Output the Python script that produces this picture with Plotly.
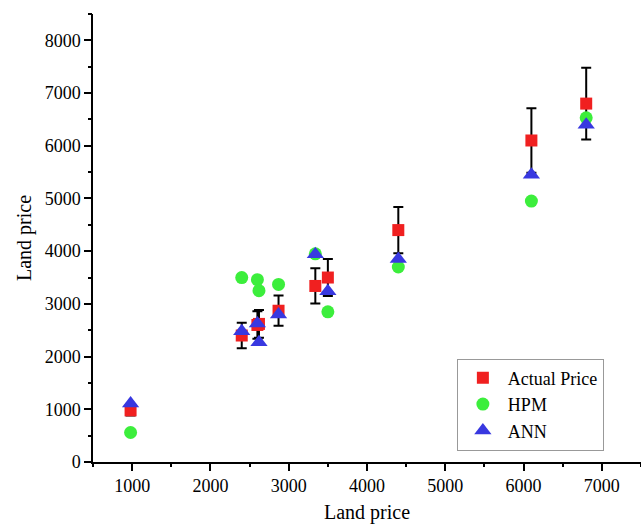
import plotly.graph_objects as go

# Actual land price (also used as the x position) and model predictions
actual_price = [980, 2400, 2600, 2620, 2870, 3340, 3500, 4400, 6100, 6800]
hpm_price = [560, 3500, 3460, 3250, 3370, 3950, 2850, 3700, 4950, 6530]
ann_price = [1110, 2480, 2630, 2270, 2800, 3940, 3240, 3850, 5450, 6400]
price_error = [98, 240, 260, 262, 287, 334, 350, 440, 610, 680]

x_ticks = [1000, 2000, 3000, 4000, 5000, 6000, 7000]
y_ticks = [0, 1000, 2000, 3000, 4000, 5000, 6000, 7000, 8000]
x_minor_ticks = [500, 1000, 1500, 2000, 2500, 3000, 3500, 4000, 4500,
                 5000, 5500, 6000, 6500, 7000, 7500]
y_minor_ticks = [0, 500, 1000, 1500, 2000, 2500, 3000, 3500, 4000, 4500,
                 5000, 5500, 6000, 6500, 7000, 7500, 8000, 8500]

x_range = [500, 7500]
y_range = [0, 8500]

serif = "Liberation Serif"

fig = go.Figure()

fig.add_trace(go.Scatter(
    x=actual_price, y=actual_price, mode="markers", name="Actual Price",
    marker=dict(symbol="square", size=12, color="#F02020", line=dict(width=0)),
    error_y=dict(type="data", array=price_error, visible=True,
                 color="black", thickness=2, width=5),
))
fig.add_trace(go.Scatter(
    x=actual_price, y=hpm_price, mode="markers", name="HPM",
    marker=dict(symbol="circle", size=13, color="#3CEE3C", line=dict(width=0)),
))
fig.add_trace(go.Scatter(
    x=actual_price, y=ann_price, mode="markers", name="ANN",
    marker=dict(symbol="triangle-up", size=15, color="#3838E0",
                line=dict(width=0)),
))
# Hidden trace that anchors the short-tick overlay axes
fig.add_trace(go.Scatter(
    x=actual_price, y=actual_price, xaxis="x2", yaxis="y2", mode="markers",
    marker=dict(opacity=0), showlegend=False, hoverinfo="skip",
))

main_axis = dict(
    showline=True, linecolor="black", linewidth=1.5,
    ticks="outside", ticklen=7, tickwidth=1.5, tickcolor="black",
    showgrid=False, zeroline=False,
    tickfont=dict(family=serif, size=18, color="black"),
    title_font=dict(family=serif, size=20, color="black"),
)
short_tick_axis = dict(
    showline=False, showticklabels=False, showgrid=False, zeroline=False,
    ticks="outside", ticklen=4, tickwidth=1.5, tickcolor="black",
)

fig.update_layout(
    width=641, height=529,
    margin=dict(l=93, r=0, t=14, b=67),
    paper_bgcolor="white", plot_bgcolor="white",
    xaxis=dict(range=x_range, tickvals=x_ticks, title_text="Land price",
               title_standoff=10, **main_axis),
    yaxis=dict(range=y_range, tickvals=y_ticks, title_text="Land price",
               title_standoff=8, **main_axis),
    xaxis2=dict(range=x_range, tickvals=x_minor_ticks, overlaying="x",
                side="bottom", anchor="y2", **short_tick_axis),
    yaxis2=dict(range=y_range, tickvals=y_minor_ticks, overlaying="y",
                side="left", anchor="x2", **short_tick_axis),
    legend=dict(
        x=0.664, y=0.231, xanchor="left", yanchor="top",
        bordercolor="#999999", borderwidth=1, bgcolor="white",
        font=dict(family=serif, size=18, color="black"),
        itemwidth=40, tracegroupgap=0,
    ),
    showlegend=True,
)

fig.write_html("out.html")
